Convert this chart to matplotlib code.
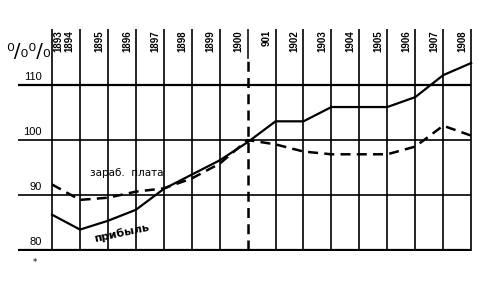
import matplotlib
matplotlib.use("Agg")
import matplotlib.pyplot as plt

# годы и значения (в процентах, 1900 = 100)
years = [1893, 1894, 1895, 1896, 1897, 1898, 1899, 1900,
         1901, 1902, 1903, 1904, 1905, 1906, 1907, 1908]
year_labels = ["1893", "1894", "1895", "1896", "1897", "1898", "1899", "1900",
               "901", "1902", "1903", "1904", "1905", "1906", "1907", "1908"]
pribyl = [86.4, 83.7, 85.3, 87.3, 91.1, 93.7, 96.3, 99.6,
          103.4, 103.4, 106.0, 106.0, 106.0, 107.8, 111.8, 114.0]
zarplata = [91.9, 89.1, 89.5, 90.6, 91.2, 93.0, 95.7, 100.0,
            99.2, 97.9, 97.4, 97.4, 97.4, 98.8, 102.6, 100.8]
y_ticks = [80, 90, 100, 110]

fig = plt.figure(figsize=(4.79, 2.81), dpi=100)
ax = fig.add_axes([18 / 479, 30 / 281, 457 / 479, 222 / 281])
x0, x1 = 1891.78, 1908.14
ytop = 120.2
ax.set_xlim(x0, x1)
ax.set_ylim(79.8, ytop)
ax.axis("off")

# сетка
for y in y_ticks:
    ax.plot([x0, 1908], [y, y], color="black", lw=1.6 if y in (80, 110) else 1.2,
            solid_capstyle="butt")
for yr in years:
    if yr == 1900:
        ax.plot([yr, yr], [115, ytop], color="black", lw=1.1)
        ax.plot([yr, yr], [80, 115], color="black", lw=1.8, dashes=(4, 2.5))
    else:
        ax.plot([yr, yr], [79.8, ytop], color="black", lw=1.2)

# подписи годов
for yr, lab in zip(years, year_labels):
    if yr == 1893:
        xt = 1893.21
    elif yr == 1894:
        xt = 1893.62
    else:
        xt = yr - 0.32
    ax.text(xt, ytop - 0.2, lab, rotation=90, ha="center", va="top",
            fontsize=7, family="Liberation Sans", fontweight="bold")

# подписи оси
for y in y_ticks:
    ax.text(1892.64, y + 0.6, str(y), ha="right", va="bottom", fontsize=8,
            family="Liberation Sans")
ax.text(1891.35, 114.3, "⁰/₀⁰/₀", ha="left", va="bottom", fontsize=14,
        family="DejaVu Sans")

# кривые
ax.plot(years, pribyl, color="black", lw=1.6)
ax.plot(years, zarplata, color="black", lw=1.8, dashes=(4, 2.5))

ax.text(1895.69, 94.0, "зараб.  плата", ha="center", va="center", fontsize=7.5,
        family="DejaVu Sans")
ax.text(1895.5, 83.1, "прибыль", ha="center", va="center", fontsize=8,
        rotation=12, family="DejaVu Sans", fontweight="bold")

fig.text(35 / 479, 1 - 262 / 281, "*", fontsize=6, ha="center", va="center")

fig.savefig("out.png", dpi=100)
